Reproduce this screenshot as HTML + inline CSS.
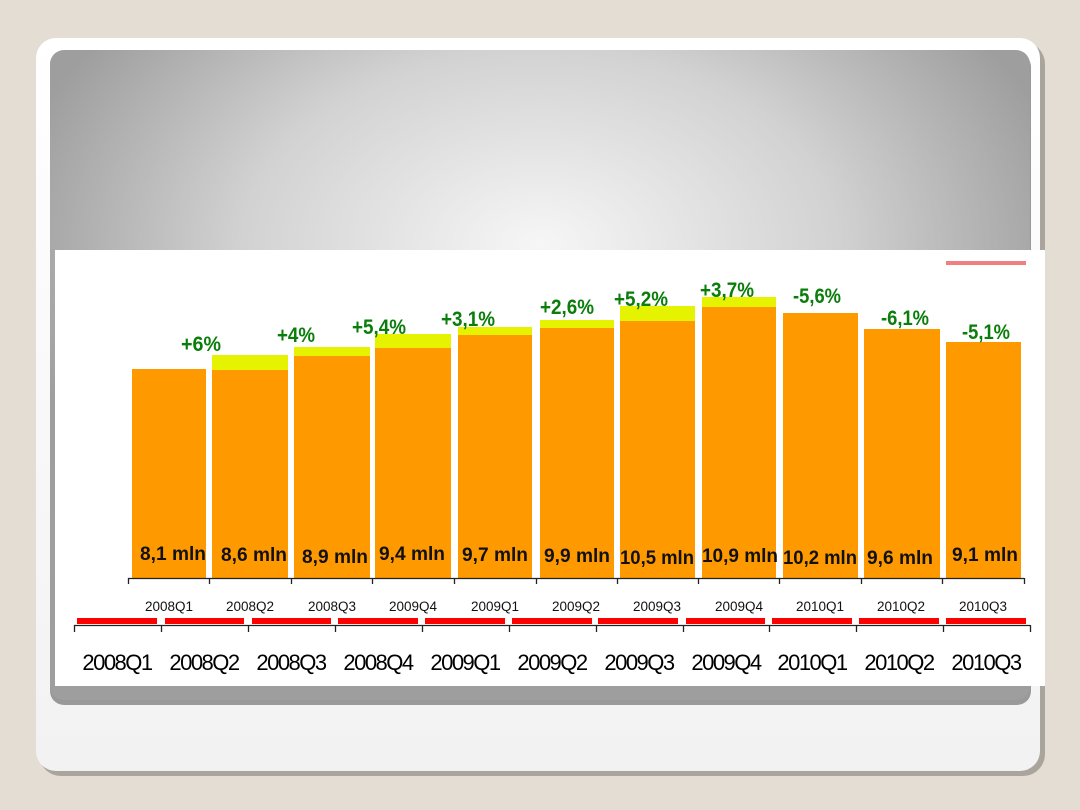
<!DOCTYPE html>
<html><head><style>
html,body{margin:0;padding:0;width:1080px;height:810px;overflow:hidden;background:#e3ddd3}
</style></head><body>
<svg width="1080" height="810" xmlns="http://www.w3.org/2000/svg" font-family="Liberation Sans, sans-serif">
<defs>
<radialGradient id="g" cx="0.5" cy="0.3" r="0.55">
<stop offset="0" stop-color="#f6f6f6"/><stop offset="0.55" stop-color="#d2d2d2"/><stop offset="1" stop-color="#9e9e9e"/>
</radialGradient>
<linearGradient id="s" x1="0" x2="0" y1="0" y2="1"><stop offset="0" stop-color="#fff"/><stop offset="1" stop-color="#f2f2f2"/></linearGradient>
</defs>
<rect x="39" y="42" width="1006" height="734" rx="22" fill="#a9a49c"/>
<rect x="36" y="38" width="1004" height="733" rx="20" fill="url(#s)"/>
<rect x="50" y="53" width="981" height="652" rx="14" fill="#999"/>
<rect x="50" y="50" width="980" height="650" rx="14" fill="url(#g)"/>
<rect x="55" y="250" width="990" height="436" fill="#fff"/>
<rect x="946" y="261" width="80" height="4" fill="#f08080"/>
<g fill="#e5f200">
<rect x="212" y="355" width="76" height="20"/><rect x="294" y="347" width="76" height="20"/><rect x="375" y="334" width="76" height="20"/><rect x="458" y="327" width="74" height="20"/><rect x="540" y="320" width="74" height="20"/><rect x="620" y="306" width="75" height="20"/><rect x="702" y="297" width="74" height="20"/>
</g>
<g fill="#ff9900">
<rect x="132" y="369" width="74" height="209"/><rect x="212" y="370" width="76" height="208"/><rect x="294" y="356" width="76" height="222"/><rect x="375" y="348" width="76" height="230"/><rect x="458" y="335" width="74" height="243"/><rect x="540" y="328" width="74" height="250"/><rect x="620" y="321" width="75" height="257"/><rect x="702" y="307" width="74" height="271"/><rect x="783" y="313" width="75" height="265"/><rect x="864" y="329" width="76" height="249"/><rect x="946" y="342" width="75" height="236"/>
</g>
<g font-weight="bold" font-size="21" fill="#0a7d0a" text-anchor="middle">
<text x="201" y="351" textLength="40" lengthAdjust="spacingAndGlyphs">+6%</text>
<text x="296" y="342" textLength="38" lengthAdjust="spacingAndGlyphs">+4%</text>
<text x="379" y="334" textLength="54" lengthAdjust="spacingAndGlyphs">+5,4%</text>
<text x="468" y="326" textLength="54" lengthAdjust="spacingAndGlyphs">+3,1%</text>
<text x="567" y="314" textLength="54" lengthAdjust="spacingAndGlyphs">+2,6%</text>
<text x="641" y="306" textLength="54" lengthAdjust="spacingAndGlyphs">+5,2%</text>
<text x="727" y="297" textLength="54" lengthAdjust="spacingAndGlyphs">+3,7%</text>
<text x="817" y="303" textLength="48" lengthAdjust="spacingAndGlyphs">-5,6%</text>
<text x="905" y="325" textLength="48" lengthAdjust="spacingAndGlyphs">-6,1%</text>
<text x="986" y="339" textLength="48" lengthAdjust="spacingAndGlyphs">-5,1%</text>
</g>
<g font-weight="bold" font-size="19" fill="#111" text-anchor="middle">
<text x="173" y="560" textLength="66" lengthAdjust="spacingAndGlyphs">8,1 mln</text>
<text x="254" y="561" textLength="66" lengthAdjust="spacingAndGlyphs">8,6 mln</text>
<text x="335" y="563" textLength="66" lengthAdjust="spacingAndGlyphs">8,9 mln</text>
<text x="412" y="560" textLength="66" lengthAdjust="spacingAndGlyphs">9,4 mln</text>
<text x="495" y="561" textLength="66" lengthAdjust="spacingAndGlyphs">9,7 mln</text>
<text x="577" y="562" textLength="66" lengthAdjust="spacingAndGlyphs">9,9 mln</text>
<text x="657" y="564" textLength="74" lengthAdjust="spacingAndGlyphs">10,5 mln</text>
<text x="740" y="562" textLength="76" lengthAdjust="spacingAndGlyphs">10,9 mln</text>
<text x="820" y="564" textLength="74" lengthAdjust="spacingAndGlyphs">10,2 mln</text>
<text x="900" y="564" textLength="66" lengthAdjust="spacingAndGlyphs">9,6 mln</text>
<text x="985" y="561" textLength="66" lengthAdjust="spacingAndGlyphs">9,1 mln</text>
</g>
<g stroke="#222" stroke-width="1.3">
<line x1="128" y1="578.5" x2="1024" y2="578.5"/>
<path d="M128.5 578v6M209.5 578v6M291.5 578v6M372.5 578v6M454.5 578v6M536.5 578v6M617.5 578v6M698.5 578v6M779.5 578v6M861.5 578v6M942.5 578v6M1024.5 578v6"/>
<line x1="74" y1="625.5" x2="1030" y2="625.5"/>
<path d="M74.5 625v7M161.5 625v7M248.5 625v7M335.5 625v7M422.5 625v7M509.5 625v7M596.5 625v7M683.5 625v7M769.5 625v7M856.5 625v7M943.5 625v7M1030.5 625v7"/>
</g>
<g fill="#ff0000">
<rect x="77" y="618" width="80" height="6"/><rect x="165" y="618" width="79" height="6"/><rect x="252" y="618" width="79" height="6"/><rect x="338" y="618" width="80" height="6"/><rect x="425" y="618" width="80" height="6"/><rect x="512" y="618" width="80" height="6"/><rect x="598" y="618" width="80" height="6"/><rect x="686" y="618" width="79" height="6"/><rect x="772" y="618" width="80" height="6"/><rect x="859" y="618" width="80" height="6"/><rect x="946" y="618" width="80" height="6"/>
</g>
<g font-size="13.5" fill="#111" text-anchor="middle">
<text x="169" y="611">2008Q1</text><text x="250" y="611">2008Q2</text><text x="332" y="611">2008Q3</text><text x="413" y="611">2009Q4</text><text x="495" y="611">2009Q1</text><text x="576" y="611">2009Q2</text><text x="657" y="611">2009Q3</text><text x="739" y="611">2009Q4</text><text x="820" y="611">2010Q1</text><text x="901" y="611">2010Q2</text><text x="983" y="611">2010Q3</text>
</g>
<g font-size="22" fill="#000" text-anchor="middle" letter-spacing="-1.5">
<text x="117" y="670">2008Q1</text><text x="204" y="670">2008Q2</text><text x="291" y="670">2008Q3</text><text x="378" y="670">2008Q4</text><text x="465" y="670">2009Q1</text><text x="552" y="670">2009Q2</text><text x="639" y="670">2009Q3</text><text x="726" y="670">2009Q4</text><text x="812" y="670">2010Q1</text><text x="899" y="670">2010Q2</text><text x="986" y="670">2010Q3</text>
</g>
</svg>
</body></html>
